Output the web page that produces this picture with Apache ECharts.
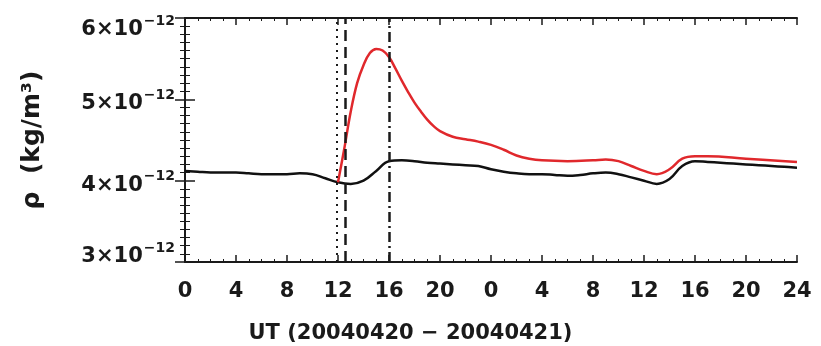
<!DOCTYPE html>
<html>
<head>
<meta charset="utf-8">
<script src="https://cdn.jsdelivr.net/npm/echarts@6/dist/echarts.min.js"></script>
<style>
    html, body { margin: 0; padding: 0; background: #fff; }
    #chart { width: 821px; height: 346px; }
</style>
</head>
<body>
<div id="chart"></div>
<script>
    // hours since 0 UT 2004-04-20, density in 1e-12 kg/m^3
    const blackHours = [0, 1, 2, 3, 4, 5, 6, 7, 8, 9, 10, 11, 12, 13, 14, 15, 16, 17, 18, 19, 20, 21, 22, 23, 24,
        25, 26, 27, 28, 29, 30, 31, 32, 33, 34, 35, 36, 37, 38, 39, 40, 41, 42, 43, 44, 45, 46, 47, 48]
    const blackValues = [4.12, 4.11, 4.10, 4.10, 4.10, 4.09, 4.08, 4.08, 4.08, 4.09, 4.08, 4.03, 3.98, 3.96, 4.00, 4.12,
        4.24, 4.25, 4.24, 4.22, 4.21, 4.20, 4.19, 4.18, 4.14, 4.11, 4.09, 4.08, 4.08, 4.07, 4.06, 4.07, 4.09, 4.10,
        4.08, 4.04, 4.00, 3.96, 4.02, 4.18, 4.24, 4.23, 4.22, 4.21, 4.20, 4.19, 4.18, 4.17, 4.16]
    const redHours = [12, 12.5, 13, 13.5, 14, 14.5, 15, 15.5, 16, 16.5, 17, 17.5, 18, 18.5, 19, 19.5, 20, 21, 22, 23, 24,
        25, 26, 27, 28, 30, 32, 33, 34, 35, 36, 37, 38, 39, 40, 41, 44, 48]
    const redValues = [3.98, 4.40, 4.85, 5.20, 5.42, 5.57, 5.62, 5.60, 5.52, 5.38, 5.23, 5.09, 4.96, 4.85, 4.75, 4.67,
        4.61, 4.54, 4.51, 4.48, 4.44, 4.38, 4.31, 4.27, 4.25, 4.24, 4.25, 4.26, 4.24, 4.18, 4.12, 4.08, 4.14, 4.27,
        4.30, 4.30, 4.27, 4.23]
    const eventHours = [11.9, 12.6, 16]

    const ink = '#1a1a1a'
    const fontFamily = 'DejaVu Sans'

    const pairs = (xs, ys) => xs.map((x, i) => [x, ys[i]])

    // IDL-style labels: end labels pulled inside the frame
    const yLabel = v => {
        const txt = '{b|' + v + '×10}{s|−12}'
        if (v === 6) return '{gapTop| }\n' + txt
        if (v === 3) return txt + '\n{gapBot| }'
        return '{gapMid| }\n' + txt
    }

    const hourLabel = v => (v === 48 ? '24' : String(v % 24))

    const chart = echarts.init(document.getElementById('chart'))
    chart.setOption({
        animation: false,
        title: {
            text: 'UT (20040420 − 20040421)',
            left: 'center',
            top: 318,
            textStyle: {fontFamily, fontSize: 21, fontWeight: 'bold', color: ink}
        },
        grid: {left: 185, right: 24, top: 15, bottom: 84},
        xAxis: [{
            type: 'value',
            min: 0,
            max: 48,
            interval: 4,
            axisLine: {lineStyle: {color: ink, width: 2}},
            axisTick: {inside: true, length: 7, lineStyle: {color: ink, width: 1.5}},
            minorTick: {show: true, splitNumber: 4, length: 3, lineStyle: {color: ink, width: 1}},
            splitLine: {show: false},
            axisLabel: {
                margin: 19,
                fontFamily, fontSize: 21, fontWeight: 'bold', color: ink,
                formatter: hourLabel
            }
        }, {
            type: 'value',
            position: 'top',
            min: 0,
            max: 48,
            interval: 4,
            axisLine: {lineStyle: {color: ink, width: 2}},
            axisTick: {inside: true, length: 7, lineStyle: {color: ink, width: 1.5}},
            minorTick: {show: true, splitNumber: 4, length: 3, lineStyle: {color: ink, width: 1}},
            splitLine: {show: false},
            axisLabel: {show: false}
        }],
        yAxis: [{
            type: 'value',
            min: 3,
            max: 6,
            interval: 1,
            name: 'ρ  (kg/m³)',
            nameLocation: 'middle',
            nameGap: 140,
            nameTextStyle: {fontFamily, fontSize: 25, fontWeight: 'bold', color: ink},
            axisLine: {lineStyle: {color: ink, width: 2}},
            axisTick: {inside: true, length: 10, lineStyle: {color: ink, width: 1.5}},
            minorTick: {show: true, splitNumber: 10, length: 5, lineStyle: {color: ink, width: 1}},
            splitLine: {show: false},
            axisLabel: {
                margin: 10,
                color: ink,
                formatter: yLabel,
                rich: {
                    b: {fontFamily, fontSize: 21, fontWeight: 'bold', color: ink, lineHeight: 26, verticalAlign: 'bottom'},
                    s: {fontFamily, fontSize: 14, fontWeight: 'bold', color: ink, lineHeight: 26, verticalAlign: 'top', padding: [0, 0, 0, 1]},
                    gapTop: {fontSize: 10, lineHeight: 18},
                    gapMid: {fontSize: 4, lineHeight: 4},
                    gapBot: {fontSize: 10, lineHeight: 16}
                }
            }
        }, {
            type: 'value',
            position: 'right',
            min: 3,
            max: 6,
            interval: 1,
            axisLine: {show: true, lineStyle: {color: ink, width: 2}},
            axisTick: {inside: true, length: 10, lineStyle: {color: ink, width: 1.5}},
            minorTick: {show: true, splitNumber: 10, length: 5, lineStyle: {color: ink, width: 1}},
            splitLine: {show: false},
            axisLabel: {show: false}
        }],
        series: [{
            type: 'line',
            data: pairs(blackHours, blackValues),
            smooth: 0.4,
            showSymbol: false,
            lineStyle: {color: '#111', width: 2.5},
            markLine: {
                silent: true,
                symbol: 'none',
                label: {show: false},
                data: [
                    {xAxis: eventHours[0], lineStyle: {color: ink, width: 2, type: [2, 5]}},
                    {xAxis: eventHours[1], lineStyle: {color: ink, width: 2.5, type: [11, 6]}},
                    {xAxis: eventHours[2], lineStyle: {color: ink, width: 2.5, type: [10, 4, 2, 4]}}
                ]
            }
        }, {
            type: 'line',
            data: pairs(redHours, redValues),
            smooth: 0.4,
            showSymbol: false,
            lineStyle: {color: '#e0282c', width: 2.5}
        }]
    })
</script>
</body>
</html>
